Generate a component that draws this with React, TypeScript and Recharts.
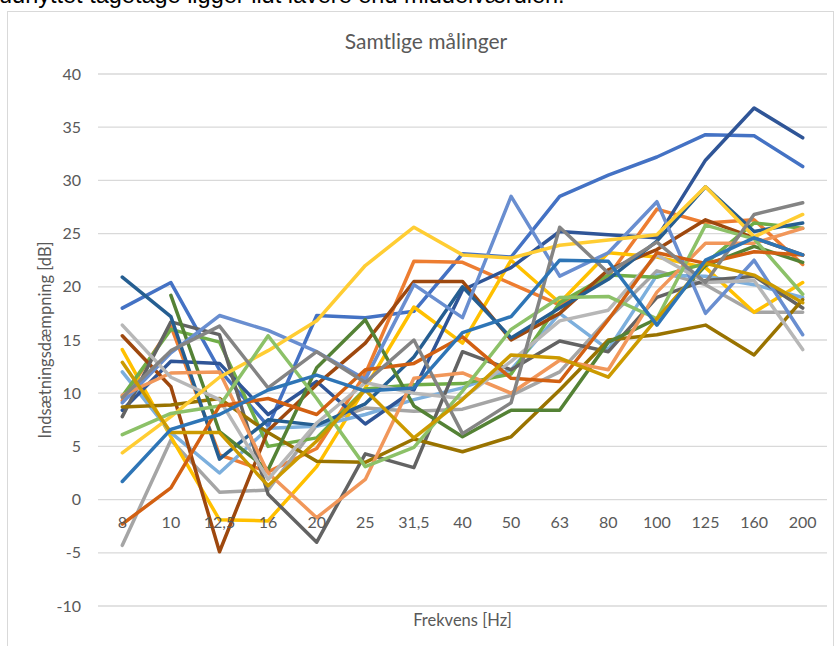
import { CartesianGrid, Line, LineChart, XAxis, YAxis } from 'recharts';

const categories = ['8', '10', '12,5', '16', '20', '25', '31,5', '40', '50', '63', '80', '100', '125', '160', '200'];
const yTicks = [-10, -5, 0, 5, 10, 15, 20, 25, 30, 35, 40];

const m01 = [18.0, 20.4, 12.2, 6.9, 17.3, 17.1, 17.7, 23.1, 22.8, 28.5, 30.5, 32.2, 34.3, 34.2, 31.3];
const m02 = [9.3, 16.3, 4.2, 2.6, 4.8, 11.8, 22.4, 22.3, 20.3, 18.3, 21.0, 27.3, 26.0, 26.3, 22.1];
const m03 = [-4.3, 5.6, 0.7, 0.9, 7.0, 8.6, 8.3, 8.5, 9.8, 12.0, 17.0, 21.5, 20.2, 17.6, 17.6];
const m04 = [14.1, 5.9, -1.9, -2.0, 3.1, 10.5, 18.1, 14.7, 22.5, 18.5, 23.2, 22.8, 21.8, 17.6, 20.4];
const m05 = [12.0, 6.3, 2.5, 6.7, 6.9, 8.0, 9.4, 10.5, 12.2, 17.5, 14.1, 21.1, 21.0, 20.2, 19.0];
const m06 = [9.7, 16.0, 14.8, 5.0, 5.8, 10.4, 10.8, 10.9, 11.8, 18.5, 21.1, 20.9, 22.2, 26.0, 25.5];
const m07 = [8.4, 13.0, 12.8, 8.0, 11.1, 7.1, 10.3, 19.7, 21.8, 25.2, 24.9, 24.6, 31.9, 36.8, 34.0];
const m08 = [15.4, 10.6, -4.9, 6.5, 10.8, 14.7, 20.5, 20.5, 15.0, 17.5, 21.6, 23.5, 26.3, 24.6, 23.0];
const m09 = [7.8, 16.7, 15.5, 0.5, -4.0, 4.3, 3.0, 13.9, 12.2, 14.9, 13.9, 19.0, 20.6, 21.0, 18.0];
const m10 = [8.7, 8.9, 9.5, 6.3, 3.6, 3.5, 5.7, 4.5, 5.9, 10.3, 15.0, 15.5, 16.4, 13.6, 18.8];
const m11 = [20.9, 17.2, 3.8, 7.5, 7.0, 9.0, 13.4, 20.0, 15.2, 18.0, 20.7, 24.3, 29.4, 25.2, 26.0];
const m12 = [null, 19.2, 6.4, 2.8, 12.4, 16.9, 8.8, 5.9, 8.4, 8.4, 14.8, 17.0, 22.0, 23.8, 22.3];
const m13 = [9.1, 13.8, 17.3, 15.9, 13.9, 11.3, 20.2, 17.1, 28.5, 21.0, 23.2, 28.0, 17.5, 22.5, 15.5];
const m14 = [9.8, 11.9, 12.0, 2.5, -1.7, 1.9, 11.4, 11.9, 10.0, 13.1, 12.2, 19.5, 24.1, 24.1, 25.5];
const m15 = [16.4, 11.5, 9.4, 1.9, 7.2, 11.0, 10.0, 9.5, 13.0, 16.8, 17.8, 23.0, 20.4, 20.6, 14.1];
const m16 = [4.4, 7.8, 11.5, 14.0, 16.8, 22.0, 25.6, 23.0, 22.7, 23.9, 24.4, 24.9, 29.4, 24.7, 26.8];
const m17 = [6.1, 8.1, 8.8, 15.4, 9.5, 3.1, 4.9, 10.2, 16.0, 19.0, 19.1, 17.0, 25.8, 24.5, 19.3];
const m18 = [-2.3, 1.1, 8.8, 9.5, 8.0, 12.2, 12.8, 15.3, 11.4, 11.1, 16.9, 23.2, 22.2, 23.3, 23.0];
const m19 = [9.6, 14.0, 16.3, 10.5, 13.9, 11.0, 15.0, 6.2, 9.1, 25.6, 21.3, 24.2, 20.4, 26.8, 27.9];
const m20 = [12.9, 6.3, 6.3, 1.3, 5.5, 10.3, 5.8, 9.4, 13.6, 13.3, 11.5, 17.0, 22.2, 21.1, 18.5];
const m21 = [1.7, 6.6, 8.0, 10.3, 11.7, 10.2, 10.5, 15.7, 17.2, 22.5, 22.4, 16.4, 22.5, 24.6, 23.0];

const series = [
  { key: 'm01', values: m01, color: '#4472C4' },
  { key: 'm02', values: m02, color: '#ED7D31' },
  { key: 'm03', values: m03, color: '#A5A5A5' },
  { key: 'm04', values: m04, color: '#FFC000' },
  { key: 'm05', values: m05, color: '#7CAFDD' },
  { key: 'm06', values: m06, color: '#70AD47' },
  { key: 'm07', values: m07, color: '#2F5597' },
  { key: 'm08', values: m08, color: '#9E480E' },
  { key: 'm09', values: m09, color: '#636363' },
  { key: 'm10', values: m10, color: '#997300' },
  { key: 'm11', values: m11, color: '#255E91' },
  { key: 'm12', values: m12, color: '#548235' },
  { key: 'm13', values: m13, color: '#698ED0' },
  { key: 'm14', values: m14, color: '#F1975A' },
  { key: 'm15', values: m15, color: '#B7B7B7' },
  { key: 'm16', values: m16, color: '#FFCD33' },
  { key: 'm17', values: m17, color: '#8CC168' },
  { key: 'm18', values: m18, color: '#D26012' },
  { key: 'm19', values: m19, color: '#848484' },
  { key: 'm20', values: m20, color: '#CC9A00' },
  { key: 'm21', values: m21, color: '#2E75B6' },
];

const data = categories.map((label, i) => {
  const row: Record<string, string | number | null> = { label };
  series.forEach((s) => {
    row[s.key] = s.values[i];
  });
  return row;
});

const W = 836;
const H = 646;
const PLOT_TOP = 74;
const PLOT_BOTTOM = 606;
const PLOT_LEFT = 98;
const PLOT_RIGHT = 827;
const HALF_BAND = (PLOT_RIGHT - PLOT_LEFT) / categories.length / 2;
const Y_MIN = -10;
const Y_MAX = 40;
const ZERO_Y = PLOT_TOP + ((PLOT_BOTTOM - PLOT_TOP) * Y_MAX) / (Y_MAX - Y_MIN);

const textColor = '#595959';
const font = 'Lato, "Open Sans", sans-serif';

// Excel puts the category labels just under the zero line
function CategoryTick(props: any) {
  const { x, payload } = props;
  return (
    <text x={x} y={ZERO_Y + 28} textAnchor="middle" fill={textColor} fontSize={16} fontFamily={font}>
      {payload.value}
    </text>
  );
}

export default function App() {
  return (
    <div style={{ position: 'absolute', left: 0, top: 0, width: W, height: H, overflow: 'hidden', background: '#fff' }}>
      <div
        style={{
          position: 'absolute',
          left: -1,
          top: -18,
          fontFamily: '"Liberation Sans", Arial, sans-serif',
          fontSize: 23.5,
          color: '#000',
          whiteSpace: 'nowrap',
        }}
      >
        udnyttet tagetage ligger lidt lavere end middelværdien.
      </div>
      <div
        style={{
          position: 'absolute',
          left: 7,
          top: 11,
          width: 827,
          height: 660,
          border: '1px solid #D9D9D9',
          boxSizing: 'border-box',
        }}
      />
      <div
        style={{
          position: 'absolute',
          left: 8,
          width: 836,
          top: 28,
          textAlign: 'center',
          fontFamily: font,
          fontSize: 21,
          color: textColor,
        }}
      >
        Samtlige målinger
      </div>
      <div style={{ position: 'absolute', left: 0, top: 0 }}>
        <LineChart width={W} height={H} data={data} margin={{ top: PLOT_TOP, right: W - PLOT_RIGHT, bottom: 0, left: 0 }}>
          <CartesianGrid vertical={false} stroke="#D9D9D9" strokeWidth={1.3} />
          <XAxis
            dataKey="label"
            axisLine={false}
            tickLine={false}
            interval={0}
            padding={{ left: HALF_BAND, right: HALF_BAND }}
            height={H - PLOT_BOTTOM}
            tick={<CategoryTick />}
          />
          <YAxis
            width={PLOT_LEFT}
            domain={[Y_MIN, Y_MAX]}
            ticks={yTicks}
            allowDataOverflow
            axisLine={false}
            tickLine={false}
            tickSize={0}
            tickMargin={17}
            tick={{ fill: textColor, fontSize: 16, fontFamily: font }}
          />
          {series.map((s) => (
            <Line
              key={s.key}
              dataKey={s.key}
              stroke={s.color}
              strokeWidth={3.5}
              strokeLinejoin="round"
              strokeLinecap="round"
              dot={false}
              activeDot={false}
              isAnimationActive={false}
              type="linear"
            />
          ))}
        </LineChart>
      </div>
      <div
        style={{
          position: 'absolute',
          left: PLOT_LEFT,
          width: PLOT_RIGHT - PLOT_LEFT,
          top: 610,
          textAlign: 'center',
          fontFamily: font,
          fontSize: 16.5,
          color: textColor,
        }}
      >
        Frekvens [Hz]
      </div>
      <div
        style={{
          position: 'absolute',
          left: 45,
          top: 340,
          transform: 'translate(-50%, -50%) rotate(-90deg)',
          whiteSpace: 'nowrap',
          fontFamily: font,
          fontSize: 16.5,
          color: textColor,
        }}
      >
        Indsætningsdæmpning [dB]
      </div>
    </div>
  );
}
